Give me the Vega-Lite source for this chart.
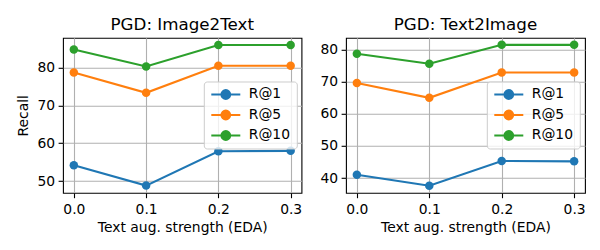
{
  "$schema": "https://vega.github.io/schema/vega-lite/v6.json",
  "autosize": {"type": "pad"},
  "padding": {"left": 16, "top": 15.8, "right": 5, "bottom": 5},
  "bounds": "flush",
  "spacing": 44,
  "config": {
    "font": "DejaVu Sans",
    "view": {"stroke": "black", "strokeWidth": 1.1},
    "title": {"font": "DejaVu Sans", "fontSize": 16.7, "fontWeight": "normal", "color": "black", "offset": 4.5, "frame": "group", "anchor": "middle"},
    "axis": {
      "domain": false,
      "gridColor": "#b0b0b0", "gridWidth": 1.1, "gridOpacity": 1,
      "tickColor": "black", "tickSize": 4.9, "tickWidth": 1.1,
      "labelFont": "DejaVu Sans", "labelFontSize": 13.9, "labelColor": "black", "labelPadding": 3.5,
      "titleFont": "DejaVu Sans", "titleFontSize": 13.9, "titleFontWeight": "normal", "titleColor": "black"
    },
    "axisX": {"titlePadding": 4, "labelPadding": 4.5},
    "axisY": {"titlePadding": 6},
    "legend": {
      "orient": "none", "legendX": 140.8, "legendY": 43.7,
      "fillColor": "rgba(255,255,255,0.8)", "strokeColor": "#cccccc", "cornerRadius": 3,
      "padding": 6, "labelFont": "DejaVu Sans", "labelFontSize": 13.9, "labelColor": "black",
      "symbolType": "M-1,0L1,0M-0.3,0A0.3,0.3 0 1 1 0.3,0A0.3,0.3 0 1 1 -0.3,0Z",
      "symbolSize": 841, "symbolStrokeWidth": 2.08, "symbolOpacity": 1,
      "clipHeight": 14, "rowPadding": 6.5, "labelOffset": 7
    }
  },
  "data": {"values": [
    {"panel": "I2T", "strength": 0.0, "metric": "R@1", "recall": 54.2},
    {"panel": "I2T", "strength": 0.1, "metric": "R@1", "recall": 48.8},
    {"panel": "I2T", "strength": 0.2, "metric": "R@1", "recall": 57.9},
    {"panel": "I2T", "strength": 0.3, "metric": "R@1", "recall": 58.0},
    {"panel": "I2T", "strength": 0.0, "metric": "R@5", "recall": 78.7},
    {"panel": "I2T", "strength": 0.1, "metric": "R@5", "recall": 73.35},
    {"panel": "I2T", "strength": 0.2, "metric": "R@5", "recall": 80.5},
    {"panel": "I2T", "strength": 0.3, "metric": "R@5", "recall": 80.5},
    {"panel": "I2T", "strength": 0.0, "metric": "R@10", "recall": 84.8},
    {"panel": "I2T", "strength": 0.1, "metric": "R@10", "recall": 80.3},
    {"panel": "I2T", "strength": 0.2, "metric": "R@10", "recall": 86.0},
    {"panel": "I2T", "strength": 0.3, "metric": "R@10", "recall": 86.0},
    {"panel": "T2I", "strength": 0.0, "metric": "R@1", "recall": 41.0},
    {"panel": "T2I", "strength": 0.1, "metric": "R@1", "recall": 37.6},
    {"panel": "T2I", "strength": 0.2, "metric": "R@1", "recall": 45.3},
    {"panel": "T2I", "strength": 0.3, "metric": "R@1", "recall": 45.2},
    {"panel": "T2I", "strength": 0.0, "metric": "R@5", "recall": 69.6},
    {"panel": "T2I", "strength": 0.1, "metric": "R@5", "recall": 65.0},
    {"panel": "T2I", "strength": 0.2, "metric": "R@5", "recall": 72.9},
    {"panel": "T2I", "strength": 0.3, "metric": "R@5", "recall": 72.9},
    {"panel": "T2I", "strength": 0.0, "metric": "R@10", "recall": 78.75},
    {"panel": "T2I", "strength": 0.1, "metric": "R@10", "recall": 75.6},
    {"panel": "T2I", "strength": 0.2, "metric": "R@10", "recall": 81.5},
    {"panel": "T2I", "strength": 0.3, "metric": "R@10", "recall": 81.5}
  ]},
  "resolve": {"scale": {"y": "independent", "color": "independent"}, "legend": {"color": "independent"}},
  "hconcat": [
    {
      "width": 238.5, "height": 155,
      "title": "PGD: Image2Text",
      "transform": [{"filter": "datum.panel === 'I2T'"}],
      "mark": {"type": "line", "strokeWidth": 2.08, "point": {"filled": true, "size": 72, "opacity": 1}},
      "encoding": {
        "x": {"field": "strength", "type": "quantitative", "scale": {"domain": [-0.015, 0.315], "nice": false, "zero": false}, "axis": {"values": [0, 0.1, 0.2, 0.3], "format": ".1f", "title": "Text aug. strength (EDA)"}},
        "y": {"field": "recall", "type": "quantitative", "scale": {"domain": [46.9, 87.9], "nice": false, "zero": false}, "axis": {"values": [50, 60, 70, 80], "title": "Recall"}},
        "color": {"field": "metric", "type": "nominal", "sort": ["R@1", "R@5", "R@10"], "scale": {"domain": ["R@1", "R@5", "R@10"], "range": ["#1f77b4", "#ff7f0e", "#2ca02c"]}, "legend": {"title": null}}
      }
    },
    {
      "width": 239, "height": 155,
      "title": "PGD: Text2Image",
      "transform": [{"filter": "datum.panel === 'T2I'"}],
      "mark": {"type": "line", "strokeWidth": 2.08, "point": {"filled": true, "size": 72, "opacity": 1}},
      "encoding": {
        "x": {"field": "strength", "type": "quantitative", "scale": {"domain": [-0.015, 0.315], "nice": false, "zero": false}, "axis": {"values": [0, 0.1, 0.2, 0.3], "format": ".1f", "title": "Text aug. strength (EDA)"}},
        "y": {"field": "recall", "type": "quantitative", "scale": {"domain": [35.4, 83.7], "nice": false, "zero": false}, "axis": {"values": [40, 50, 60, 70, 80], "title": null}},
        "color": {"field": "metric", "type": "nominal", "sort": ["R@1", "R@5", "R@10"], "scale": {"domain": ["R@1", "R@5", "R@10"], "range": ["#1f77b4", "#ff7f0e", "#2ca02c"]}, "legend": {"title": null}}
      }
    }
  ]
}
